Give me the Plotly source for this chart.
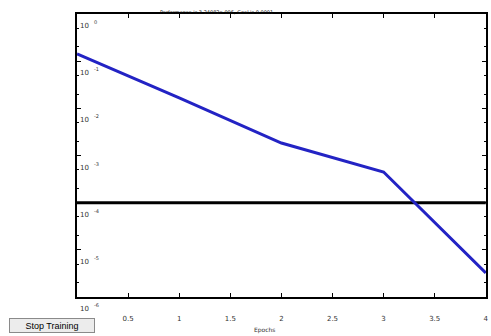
import math
import plotly.graph_objects as go

epochs = [0, 1, 2, 3, 4]
performance = [0.142, 0.0166, 0.00184, 0.000447, 0.00000324]
goal = 0.0001
x_ticks = [0.5, 1, 1.5, 2, 2.5, 3, 3.5, 4]
x_tick_labels = ["0.5", "1", "1.5", "2", "2.5", "3", "3.5", "4"]
y_ticks = [1, 0.1, 0.01, 0.001, 0.0001, 0.00001, 0.000001]
y_tick_base = "10"
y_tick_exponents = ["0", "-1", "-2", "-3", "-4", "-5", "-6"]
title_text = "Performance is 3.24082e-006, Goal is 0.0001"
x_title = "Epochs"

W, H = 491, 336
L, R, T, B = 77, 2, 14, 39
PW = W - L - R
PH = H - T - B

def px(xp):
    return (xp - L) / PW

def py(yp):
    return (H - B - yp) / PH

fig = go.Figure()
fig.add_trace(go.Scatter(x=[0, 4], y=[goal, goal], mode="lines",
                         line=dict(color="black", width=3), hoverinfo="skip"))
fig.add_trace(go.Scatter(x=epochs, y=performance, mode="lines",
                         line=dict(color="#2323c4", width=3)))

fig.update_layout(
    width=W, height=H,
    margin=dict(l=L, r=R, t=T, b=B),
    paper_bgcolor="white", plot_bgcolor="white",
    showlegend=False,
    font=dict(family="DejaVu Sans", size=7, color="#333"),
)
fig.update_xaxes(range=[0, 4.002], tickvals=x_ticks, ticktext=x_tick_labels,
                 ticks="inside", ticklen=4, tickcolor="black",
                 showline=True, linecolor="black", linewidth=2, mirror="ticks",
                 showgrid=False, zeroline=False, ticklabelstandoff=14,
                 ticklabeloverflow="allow")
fig.update_yaxes(type="log", range=[-6, 0], tickvals=y_ticks, showticklabels=False,
                 ticks="inside", ticklen=4, tickcolor="black",
                 showline=True, linecolor="black", linewidth=2, mirror="ticks",
                 showgrid=False, zeroline=False,
                 minor=dict(ticks="inside", ticklen=2, tickcolor="black", showgrid=False))

for v, ex in zip(y_ticks, y_tick_exponents):
    fig.add_annotation(text=y_tick_base, x=0, xref="paper", y=math.log10(v), yref="y",
                       xanchor="right", yanchor="middle", xshift=14, yshift=-12,
                       showarrow=False, font=dict(size=7, color="#333"))
    fig.add_annotation(text=ex, x=0, xref="paper", y=math.log10(v), yref="y",
                       xanchor="left", yanchor="middle", xshift=15, yshift=-8,
                       showarrow=False, font=dict(size=5, color="#333"))

fig.add_annotation(text=title_text, x=px(218), y=py(12), xref="paper", yref="paper",
                   showarrow=False, font=dict(size=5, color="#111"),
                   xanchor="center", yanchor="middle")
fig.add_annotation(text=x_title, x=px(266), y=py(330), xref="paper", yref="paper",
                   showarrow=False, font=dict(size=6, color="#333"),
                   xanchor="center", yanchor="middle")
fig.add_annotation(text="Stop Training", x=px(52), y=py(325),
                   xref="paper", yref="paper", showarrow=False,
                   font=dict(size=9, color="black", family="Liberation Sans"),
                   bgcolor="#ececec", bordercolor="#8a8a8a", borderwidth=1, borderpad=1,
                   width=82, height=11, xanchor="center", yanchor="middle")

fig.write_html("out.html", config={"displayModeBar": False},
               post_script="document.body.style.margin='0';document.body.style.overflow='hidden';")
